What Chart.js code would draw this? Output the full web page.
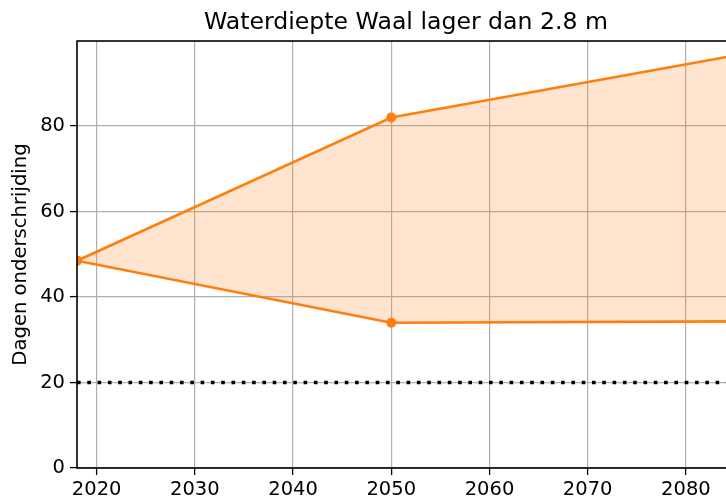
<!DOCTYPE html>
<html>
<head>
<meta charset="utf-8">
<script src="https://cdn.jsdelivr.net/npm/chart.js@4/dist/chart.umd.min.js"></script>
<style>
  html, body { margin: 0; padding: 0; background: #fff; overflow: hidden; }
  #wrap { width: 726px; height: 499px; overflow: hidden; position: relative; }
  #holder { width: 752px; height: 499px; position: absolute; left: 0; top: 0; }
</style>
</head>
<body>
<div id="wrap"><div id="holder"><canvas id="c" width="752" height="499"></canvas></div></div>
<script>
// ---- data ----
const years = [2018, 2050, 2085];
const upperDays = [48.5, 82.0, 96.5];
const lowerDays = [48.5, 34.0, 34.3];
const thresholdYears = [2018, 2085];
const thresholdDays = [20, 20];
const xTicks = [2020, 2030, 2040, 2050, 2060, 2070, 2080];
const yTicks = [0, 20, 40, 60, 80];
const titleText = 'Waterdiepte Waal lager dan 2.8 m';
const yLabel = 'Dagen onderschrijding';

const ORANGE = '#ff7f0e';
const FONT = "'DejaVu Sans', sans-serif";

const toPts = (xs, ys) => xs.map((x, i) => ({ x: x, y: ys[i] }));

const frame = {
  id: 'frame',
  afterDraw(chart) {
    const a = chart.chartArea, ctx = chart.ctx;
    ctx.save();
    ctx.strokeStyle = '#000';
    ctx.lineWidth = 1.6;
    ctx.strokeRect(a.left, a.top, a.right - a.left, a.bottom - a.top);
    ctx.restore();
  }
};

new Chart(document.getElementById('c'), {
  type: 'line',
  data: {
    datasets: [
      {
        data: toPts(years, upperDays),
        borderColor: ORANGE, backgroundColor: 'rgba(255,127,14,0.2)',
        borderWidth: 2.6, pointRadius: 5, pointBackgroundColor: ORANGE,
        pointBorderWidth: 0, fill: '+1', tension: 0, order: 1
      },
      {
        data: toPts(years, lowerDays),
        borderColor: ORANGE, backgroundColor: 'rgba(255,127,14,0.2)',
        borderWidth: 2.6, pointRadius: 5, pointBackgroundColor: ORANGE,
        pointBorderWidth: 0, fill: false, tension: 0, order: 1
      },
      {
        data: toPts(thresholdYears, thresholdDays),
        borderColor: '#000', borderWidth: 3.6, borderDash: [3.6, 6.7],
        pointRadius: 0, fill: false, tension: 0, order: 0
      }
    ]
  },
  options: {
    responsive: false,
    animation: false,
    devicePixelRatio: 1,
    layout: { padding: { left: 0, right: 17, top: 0, bottom: 0 } },
    plugins: {
      legend: { display: false },
      tooltip: { enabled: false },
      title: {
        display: true, text: titleText, color: '#000', fullSize: false,
        font: { family: FONT, size: 23.6, weight: 'normal' },
        padding: { top: 9, bottom: 3.7 }
      }
    },
    scales: {
      x: {
        type: 'linear', min: 2018, max: 2085,
        afterBuildTicks: s => { s.ticks = xTicks.map(v => ({ value: v })); },
        afterFit: s => { s.height = 31; },
        grid: { color: '#b0b0b0', lineWidth: 1.2, tickLength: 7, tickColor: '#000', tickWidth: 1.3 },
        border: { display: false },
        ticks: { color: '#000', font: { family: FONT, size: 19.5 }, padding: 3, maxRotation: 0,
                 callback: v => String(v) }
      },
      y: {
        type: 'linear', min: 0, max: 99.9,
        afterBuildTicks: s => { s.ticks = yTicks.map(v => ({ value: v })); },
        afterFit: s => { s.width = 77; },
        grid: { color: '#b0b0b0', lineWidth: 1.2, tickLength: 7, tickColor: '#000', tickWidth: 1.3 },
        border: { display: false },
        title: { display: true, text: yLabel, color: '#000',
                 font: { family: FONT, size: 19.6 }, padding: { top: 9, bottom: 0 } },
        ticks: { color: '#000', font: { family: FONT, size: 19.5 }, padding: 5,
                 callback: v => String(v) }
      }
    }
  },
  plugins: [frame]
});
</script>
</body>
</html>
